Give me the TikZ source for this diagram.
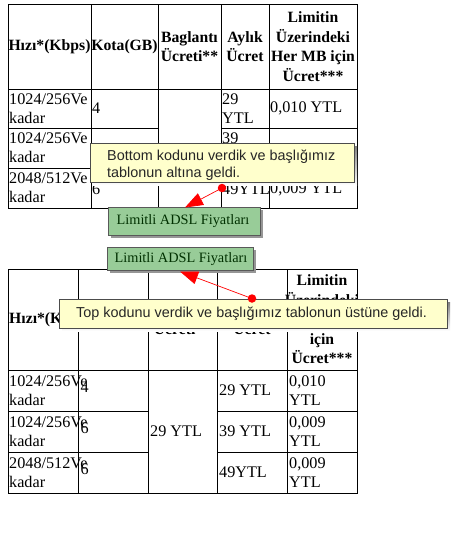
\documentclass[tikz,border=0pt]{standalone}
\usepackage{fontspec}
\setmainfont{Liberation Serif}
\newfontfamily\tipfont{Liberation Sans}
\usetikzlibrary{arrows.meta}
\definecolor{tipfill}{RGB}{255,255,204}
\definecolor{gbfill}{RGB}{152,204,152}
\definecolor{gbtext}{RGB}{0,48,0}
\definecolor{shade}{RGB}{150,150,150}
\tikzset{
  grid/.style={line width=0.9pt, black},
  cell/.style={font=\fontsize{16.2}{19}\selectfont, inner sep=0pt, align=left, anchor=west},
  hcell/.style={font=\fontsize{15.7}{19.5}\selectfont\bfseries, inner sep=0pt, align=center},
  gbox/.style={fill=gbfill, draw=gray!70!black, line width=0.8pt},
  gbshadow/.style={fill=shade},
  gbtxt/.style={font=\fontsize{14.3}{17}\selectfont, text=gbtext, inner sep=0pt},
  tipbox/.style={fill=tipfill, draw=gray!60!black, line width=0.8pt},
  tiptxt/.style={font=\tipfont\fontsize{14.4}{16.5}\selectfont, inner sep=0pt, align=left, anchor=west, text=black!85},
  reddot/.style={circle, fill=red, inner sep=0pt, minimum size=8.5pt},
  redarrow/.style={draw=red, line width=0.7pt, -{Triangle[length=18pt,width=13pt]}, red}
}
\begin{document}
\begin{tikzpicture}[x=1pt,y=-1pt]
\useasboundingbox[fill=white] (0,0) rectangle (476,547);

% ---------------- Table 1 ----------------
\draw[grid] (8,4) rectangle (357,208);
\foreach \xx in {91,158,221,269} \draw[grid] (\xx,4) -- (\xx,208);
\draw[grid] (8,89) -- (357,89);
\draw[grid] (8,128.5) -- (158,128.5);
\draw[grid] (221,128.5) -- (357,128.5);
\draw[grid] (8,168) -- (158,168);
\draw[grid] (221,168) -- (357,168);

\node[hcell] (a11) at (49.5,46.5) {Hızı*(Kbps)};
\node[hcell] (a12) at (124.5,46.5) {Kota(GB)};
\node[hcell] (a13) at (189.5,46.5) {Baglantı\\Ücreti**};
\node[hcell] (a14) at (245,46.5) {Aylık\\Ücret};
\node[hcell] (a15) at (313,46.5) {Limitin\\Üzerindeki\\Her MB için\\Ücret***};

\node[cell] (a21) at (9,108.5) {1024/256Ve\\kadar};
\node[cell] (a22) at (92,108.5) {4};
\node[cell] (a24) at (222,108.5) {29\\YTL};
\node[cell] (a25) at (270,108.5) {0,010 YTL};

\node[cell] (a31) at (9,148) {1024/256Ve\\kadar};
\node[cell] (a34) at (222,148) {39\\YTL};

\node[cell] (a41) at (9,188) {2048/512Ve\\kadar};
\node[cell] (a42) at (92,189) {6};
\node[cell] (a44) at (222,189.5) {49YTL};
\node[cell] (a45) at (270,189.5) {0,009 YTL};

% ---------------- Table 2 ----------------
\draw[grid] (8,269) rectangle (357,493);
\foreach \xx in {78,148,217,287} \draw[grid] (\xx,269) -- (\xx,493);
\draw[grid] (8,370) -- (357,370);
\draw[grid] (8,411) -- (148,411);
\draw[grid] (217,411) -- (357,411);
\draw[grid] (8,452) -- (148,452);
\draw[grid] (217,452) -- (357,452);

\node[hcell, anchor=west] (b11) at (9,319.5) {Hızı*(Kbps)};
\node[hcell] (b13) at (182.5,319.5) {Baglantı\\Ücreti**};
\node[hcell] (b14) at (252,319.5) {Aylık\\Ücret};
\node[hcell] (b15) at (322,319.5) {Limitin\\Üzerindeki\\Her MB\\için\\Ücret***};

\node[cell] (b21) at (9,390.5) {1024/256Ve\\kadar};
\node[cell] (b22) at (80.5,387) {4};
\node[cell] (b24) at (219,390.5) {29 YTL};
\node[cell] (b25) at (289,390.5) {0,010\\YTL};

\node[cell] (b31) at (9,431.5) {1024/256Ve\\kadar};
\node[cell] (b32) at (80.5,428) {6};
\node[cell] (b33) at (150,431.5) {29 YTL};
\node[cell] (b34) at (219,431.5) {39 YTL};
\node[cell] (b35) at (289,431.5) {0,009\\YTL};

\node[cell] (b41) at (9,472.5) {2048/512Ve\\kadar};
\node[cell] (b42) at (80.5,469) {6};
\node[cell] (b44) at (219,472.5) {49YTL};
\node[cell] (b45) at (289,472.5) {0,009\\YTL};

% ---------------- Green caption boxes ----------------
\fill[gbshadow] (111,210) rectangle (263,238);
\draw[gbox] (108,207) rectangle (260,235);
\node[gbtxt] (gb1) at (183,221.5) {Limitli ADSL Fiyatları};

\fill[gbshadow] (110,250) rectangle (256,273);
\draw[gbox] (107,247) rectangle (253,270);
\node[gbtxt] (gb2) at (181,259) {Limitli ADSL Fiyatları};

% ---------------- Tooltips ----------------
\fill[shade] (93,146) rectangle (357,185);
\draw[tipbox] (90,143) rectangle (354,182);
\node[tiptxt] (tip1text) at (107,165) {Bottom kodunu verdik ve başlığımız\\tablonun altına geldi.};

\fill[shade] (62,302) rectangle (450,331);
\draw[tipbox] (59,299) rectangle (447,328);
\node[tiptxt] (tip2text) at (76,314) {Top kodunu verdik ve başlığımız tablonun üstüne geldi.};

% ---------------- Red pointers ----------------
\node[reddot] (dot1) at (222,188) {};
\coordinate (tip1) at (185,207.5);
\draw[redarrow] (dot1.center) -- (tip1);

\node[reddot] (dot2) at (252,298.5) {};
\coordinate (tip2) at (180,271.5);
\draw[redarrow] (dot2.center) -- (tip2);
\end{tikzpicture}
\end{document}
